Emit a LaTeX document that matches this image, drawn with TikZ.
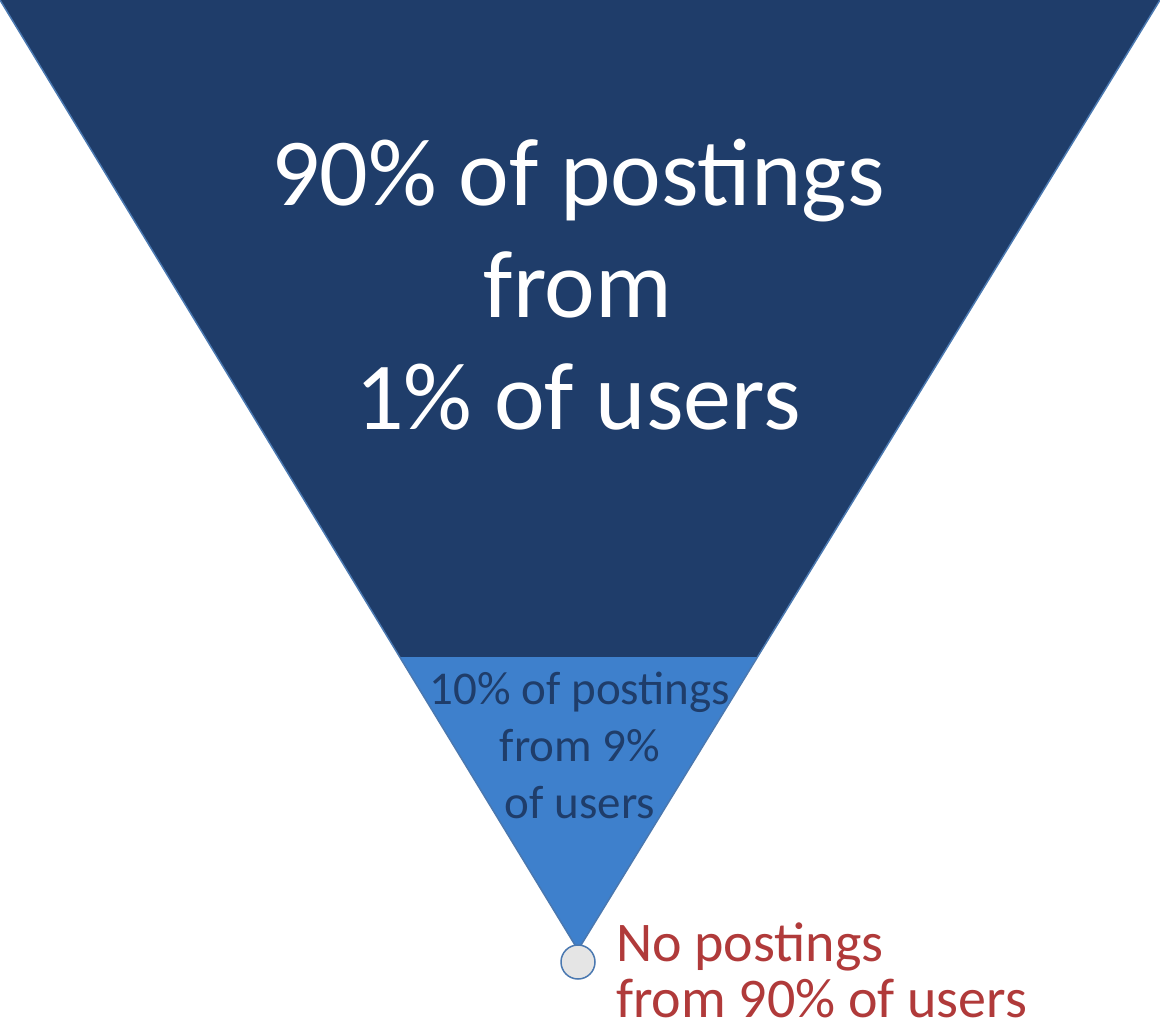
\documentclass[tikz,border=0pt]{standalone}
\usepackage{fontspec}
\setmainfont{Carlito}
\definecolor{dark}{HTML}{1F3D6A}
\definecolor{light}{HTML}{3E80CC}
\definecolor{edge}{HTML}{4A78B0}
\definecolor{redt}{HTML}{B03A3A}
\begin{document}
\begin{tikzpicture}[x=1pt,y=-1pt,
  big/.style={font=\fontsize{96}{112}\selectfont,text=white,align=center},
  small/.style={font=\fontsize{47}{57}\selectfont,text=dark,align=center},
  note/.style={font=\fontsize{56}{56}\selectfont,text=redt,align=left,anchor=west,inner sep=0}]
\useasboundingbox (0,0) rectangle (1160,1029);
\fill[dark] (0,0) -- (1160,0) -- (757,657) -- (400,657) -- cycle;
\fill[light] (400,657) -- (757,657) -- (578,950) -- cycle;
\draw[edge,line width=1.5] (0,0) -- (578,950) -- (1160,0);
\node[big] (t1) at (578,285) {90\% of postings\\from\\1\% of users};
\node[small] (t2) at (580,745) {10\% of postings\\from 9\%\\of users};
\node[circle,draw=edge,fill=gray!20,line width=1.5,minimum size=34,inner sep=0] (c) at (578,962) {};
\node[note] (t3) at (616,970) {No postings\\from 90\% of users};
\end{tikzpicture}
\end{document}
